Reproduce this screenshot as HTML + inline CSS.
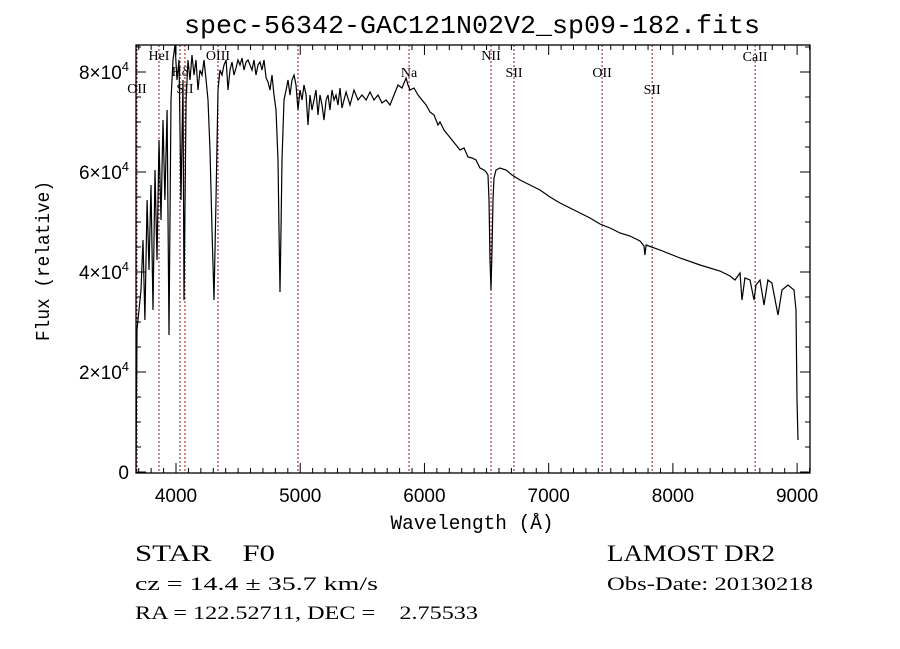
<!DOCTYPE html>
<html><head><meta charset="utf-8"><style>
html,body{margin:0;padding:0;background:#fff;}
svg{display:block;}
</style></head><body>
<svg id="chart" width="900" height="649" viewBox="0 0 900 649" xmlns="http://www.w3.org/2000/svg">
<rect width="900" height="649" fill="#fff"/>
<text x="472" y="33" font-family="Liberation Mono, monospace" font-size="26" text-anchor="middle" textLength="576" lengthAdjust="spacingAndGlyphs">spec-56342-GAC121N02V2_sp09-182.fits</text>
<g id="lines"></g>
<g id="axes"></g>
<g id="series"></g>
<text transform="translate(49,261) rotate(-90)" font-family="Liberation Mono, monospace" font-size="19" text-anchor="middle" textLength="160" lengthAdjust="spacingAndGlyphs">Flux (relative)</text>
<text x="472" y="529" font-family="Liberation Mono, monospace" font-size="20" text-anchor="middle" textLength="163" lengthAdjust="spacingAndGlyphs">Wavelength (Å)</text>
<text x="135" y="561" font-family="Liberation Serif, serif" font-size="23" xml:space="preserve" textLength="140" lengthAdjust="spacingAndGlyphs">STAR    F0</text>
<text x="135" y="590" font-family="Liberation Serif, serif" font-size="19" textLength="243" lengthAdjust="spacingAndGlyphs">cz = 14.4 ± 35.7 km/s</text>
<text x="135" y="619" font-family="Liberation Serif, serif" font-size="19" xml:space="preserve" textLength="343" lengthAdjust="spacingAndGlyphs">RA = 122.52711, DEC =    2.75533</text>
<text x="607" y="561" font-family="Liberation Serif, serif" font-size="23" textLength="168" lengthAdjust="spacingAndGlyphs">LAMOST DR2</text>
<text x="607" y="590" font-family="Liberation Serif, serif" font-size="19" textLength="206" lengthAdjust="spacingAndGlyphs">Obs-Date: 20130218</text>
</svg>
<script>
const wave = [3678,3686,3702,3718,3734,3750,3767,3783,3799,3815,3831,3847,3863,3879,3895,3911,3928,3944,3960,3976,3992,4008,4024,4040,4056,4064,4081,4097,4113,4129,4145,4161,4177,4193,4209,4225,4242,4258,4274,4290,4306,4322,4338,4354,4370,4386,4403,4419,4435,4451,4467,4483,4499,4515,4531,4547,4564,4580,4596,4612,4628,4644,4660,4676,4692,4708,4725,4741,4757,4773,4789,4805,4821,4829,4837,4845,4853,4869,4886,4902,4918,4934,4950,4966,4982,4998,5014,5030,5047,5063,5079,5095,5111,5127,5143,5159,5175,5191,5208,5224,5240,5256,5272,5288,5304,5320,5336,5352,5369,5401,5433,5465,5497,5530,5562,5594,5626,5658,5691,5723,5755,5787,5819,5852,5868,5884,5916,5948,5980,6013,6045,6077,6109,6125,6157,6190,6222,6254,6286,6318,6351,6383,6415,6447,6479,6496,6512,6520,6528,6536,6544,6552,6560,6576,6608,6657,6705,6769,6850,6930,7011,7091,7172,7252,7333,7413,7494,7574,7655,7735,7767,7775,7784,7896,8057,8218,8379,8460,8500,8540,8556,8580,8621,8653,8669,8701,8733,8765,8797,8846,8878,8927,8975,8991,8999,9007];
const flux = [0.14,2.84,3.24,3.64,4.64,3.04,5.44,4.04,5.74,3.24,6.04,4.24,6.64,5.04,7.04,5.44,7.24,2.74,7.44,8.24,8.54,7.84,8.24,5.44,7.84,3.44,7.44,8.24,7.84,8.34,7.94,8.24,7.64,8.04,7.94,8.24,7.84,7.44,6.44,4.84,3.44,5.44,7.64,8.04,7.94,8.14,8.24,7.64,8.04,8.2,7.94,8.08,8.24,8.14,8.28,8.04,8.2,8.24,8.14,8.04,8.24,7.94,8.14,8.2,8.04,8.24,7.88,7.8,7.64,7.94,7.54,7.24,6.24,4.84,3.6,4.84,6.24,7.44,7.64,7.84,7.54,7.84,7.94,7.74,7.24,7.64,7.44,7.74,7.54,6.94,7.54,7.24,7.44,7.64,7.14,7.54,7.34,7.04,7.44,7.54,7.24,7.64,7.44,7.54,7.34,7.68,7.28,7.44,7.6,7.34,7.64,7.44,7.54,7.44,7.6,7.44,7.54,7.38,7.44,7.34,7.54,7.74,7.68,7.88,7.74,7.64,7.68,7.54,7.44,7.34,7.2,7.14,6.94,7.0,6.84,6.74,6.64,6.54,6.44,6.48,6.3,6.28,6.24,6.08,6.04,6.0,5.94,5.44,4.24,3.64,4.44,5.44,5.88,6.04,6.08,6.04,5.94,5.84,5.74,5.64,5.5,5.38,5.28,5.18,5.08,4.96,4.88,4.78,4.72,4.62,4.52,4.34,4.54,4.44,4.28,4.14,4.02,3.92,3.84,3.98,3.44,3.88,3.84,3.44,3.74,3.84,3.34,3.84,3.78,3.14,3.64,3.74,3.64,3.24,1.44,0.64];
const xTicks = [4000,5000,6000,7000,8000,9000];
const yTicks = [0,2,4,6,8];
const lineNames = ["OII","HeI","Hδ","SII","OIII","Hβ","Na","NII","SII","OII","SII","CaII"];
const lineWaves = [3686,3863,4032,4072,4338,4982,5876,6536,6721,7430,7833,8662];
const lineLabelY = [93,60,76,93,60,93,77,60,77,77,94,61];

const NS="http://www.w3.org/2000/svg";
const L=136,R=810,T=45,B=473;
function xs(w){return 176+(w-4000)/8.05;}
function ys(f){return 472-f*50;}
function mk(tag,attrs,parent){const e=document.createElementNS(NS,tag);for(const k in attrs)e.setAttribute(k,attrs[k]);parent.appendChild(e);return e;}

const lg=document.getElementById('lines');
lineWaves.forEach((w,i)=>{
  const x=xs(w);
  const ln=mk('line',{x1:x,x2:x,y1:T,y2:B,stroke:'#8b1a1a','stroke-width':1,'stroke-dasharray':'2,2'},lg);
  
  
  if(lineNames[i]==="Hβ") return;
  const t=mk('text',{x:x,y:lineLabelY[i],'font-family':'Liberation Serif, serif','font-size':14,'text-anchor':'middle'},lg);
  t.textContent=lineNames[i];
  
  
});

const ag=document.getElementById('axes');
const fr=mk('rect',{x:L,y:T,width:R-L,height:B-T,fill:'none',stroke:'#000','stroke-width':1.3},ag);


for(let w=3700;w<=9100;w+=100){
  const x=xs(w); if(x<L||x>R) continue;
  const len=(w%1000===0)?10:5;
  mk('line',{x1:x,x2:x,y1:B,y2:B-len,stroke:'#000'},ag);
  mk('line',{x1:x,x2:x,y1:T,y2:T+len,stroke:'#000'},ag);
}
xTicks.forEach(w=>{
  const t=mk('text',{x:xs(w),y:502,'font-family':'Liberation Sans, sans-serif','font-size':19,'text-anchor':'middle'},ag);
  t.textContent=w;
  
  
});
for(let f=0;f<=8.5;f+=0.5){
  const y=ys(f); if(y<T) continue;
  const len=(Math.abs(f%2)<1e-6)?10:5;
  mk('line',{x1:L,x2:L+len,y1:y,y2:y,stroke:'#000'},ag);
  mk('line',{x1:R,x2:R-len,y1:y,y2:y,stroke:'#000'},ag);
}
yTicks.forEach(f=>{
  const y=ys(f);
  const t=mk('text',{x:129,y:y+7,'font-family':'Liberation Sans, sans-serif','font-size':19,'text-anchor':'end'},ag);
  if(f===0){t.textContent='0';}
  else{
    t.textContent=f+'×10';
    const s=mk('tspan',{'font-size':13,dy:-8},t); s.textContent='4';
  }
  
  
});

const sg=document.getElementById('series');
const cp=mk('clipPath',{id:'clip'},sg);
mk('rect',{x:L,y:T,width:R-L,height:B-T},cp);
let d='';
wave.forEach((w,i)=>{d+=(i?'L':'M')+xs(w).toFixed(1)+','+ys(flux[i]).toFixed(1);});
const p=mk('path',{d:d,fill:'none',stroke:'#000','stroke-width':1.2,'clip-path':'url(#clip)'},sg);


</script>
</body></html>
